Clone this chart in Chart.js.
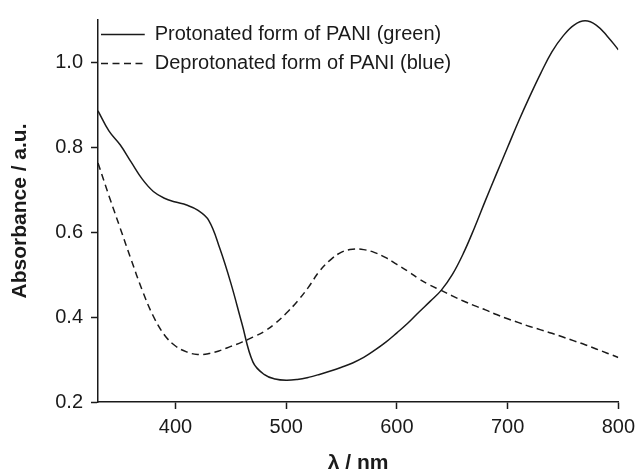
<!DOCTYPE html>
<html>
<head>
<meta charset="utf-8">
<script src="https://cdn.jsdelivr.net/npm/chart.js@4.4.1/dist/chart.umd.min.js"></script>
<style>
  body { margin: 0; background: #fff; }
  canvas { display: block; }
</style>
</head>
<body>
<canvas id="spectrum" width="641" height="473"></canvas>
<script>
// wavelength grid (nm), every 10 nm
const wavelengths = [330, 340, 350, 360, 370, 380, 390, 400, 410, 420, 430, 440, 450, 460, 470, 480,
  490, 500, 510, 520, 530, 540, 550, 560, 570, 580, 590, 600, 610, 620, 630, 640, 650, 660, 670, 680,
  690, 700, 710, 720, 730, 740, 750, 760, 770, 780, 790, 800];

// protonated PANI (solid)
const protonated = [0.886, 0.838, 0.806, 0.765, 0.725, 0.696, 0.680, 0.671, 0.664, 0.652, 0.628, 0.562,
  0.480, 0.385, 0.294, 0.265, 0.254, 0.251, 0.253, 0.258, 0.265, 0.273, 0.282, 0.292, 0.305, 0.322,
  0.341, 0.363, 0.386, 0.412, 0.437, 0.463, 0.500, 0.550, 0.610, 0.675, 0.738, 0.800, 0.862, 0.920,
  0.975, 1.025, 1.062, 1.088, 1.098, 1.088, 1.062, 1.030];

// deprotonated PANI (dashed)
const deprotonated = [0.763, 0.685, 0.610, 0.535, 0.463, 0.402, 0.358, 0.332, 0.318, 0.312, 0.314, 0.321,
  0.331, 0.341, 0.353, 0.366, 0.385, 0.409, 0.437, 0.470, 0.508, 0.535, 0.553, 0.560, 0.559, 0.552,
  0.540, 0.524, 0.508, 0.490, 0.475, 0.463, 0.450, 0.438, 0.427, 0.417, 0.406, 0.396, 0.387, 0.378,
  0.370, 0.362, 0.353, 0.344, 0.335, 0.325, 0.315, 0.305];

const seriesNames = ["Protonated form of PANI (green)", "Deprotonated form of PANI (blue)"];
const xTicks = [400, 500, 600, 700, 800];
const yTicks = [0.2, 0.4, 0.6, 0.8, 1.0];

const ink = "#1a1a1a";
const fontFamily = "'Liberation Sans', Arial, Helvetica, sans-serif";
const dash = [7, 4.5];

const toPoints = (ys) => wavelengths.map((x, i) => ({ x: x, y: ys[i] }));

// put the in-plot legend where the original sits (top-left of the plot)
const legendShift = {
  id: "legendShift",
  afterLayout(chart) {
    if (chart.legend) {
      chart.legend.top = chart.chartArea.top - 4.5;
      chart.legend.left = chart.chartArea.left - 6;
    }
  },
};

new Chart(document.getElementById("spectrum"), {
  type: "line",
  data: {
    datasets: [
      {
        label: seriesNames[0],
        data: toPoints(protonated),
        borderColor: ink,
        borderWidth: 1.5,
        pointRadius: 0,
        tension: 0.4,
      },
      {
        label: seriesNames[1],
        data: toPoints(deprotonated),
        borderColor: ink,
        borderWidth: 1.5,
        borderDash: dash,
        pointRadius: 0,
        tension: 0.4,
      },
    ],
  },
  options: {
    responsive: false,
    animation: false,
    layout: { padding: { top: 14, right: 17, left: 0, bottom: 0 } },
    plugins: {
      legend: {
        position: "chartArea",
        align: "start",
        labels: {
          // zero-height box = a plain line sample; width chosen so the dashes line up both ways
          boxWidth: 43.75,
          boxHeight: 0,
          padding: 9,
          color: ink,
          font: { family: fontFamily, size: 20 },
        },
      },
      tooltip: { enabled: false },
    },
    scales: {
      x: {
        type: "linear",
        min: 330,
        max: 800,
        afterBuildTicks: (scale) => { scale.ticks = xTicks.map((v) => ({ value: v })); },
        afterFit: (scale) => { scale.height = 71; },
        ticks: {
          color: ink,
          padding: 6,
          maxRotation: 0,
          font: { family: fontFamily, size: 20 },
          callback: (v) => String(v),
        },
        grid: { drawOnChartArea: false, tickLength: 7, tickColor: ink, tickWidth: 1.5 },
        border: { color: ink, width: 1.5 },
        title: {
          display: true,
          text: "λ / nm",
          color: ink,
          padding: { top: 0, bottom: -1 },
          font: { family: fontFamily, size: 21, weight: "bold", lineHeight: 1 },
        },
      },
      y: {
        type: "linear",
        min: 0.2,
        max: 1.1,
        afterBuildTicks: (scale) => { scale.ticks = yTicks.map((v) => ({ value: v })); },
        afterFit: (scale) => { scale.width = 98; },
        ticks: {
          color: ink,
          padding: 8,
          font: { family: fontFamily, size: 20 },
          callback: (v) => Number(v).toFixed(1),
        },
        grid: { drawOnChartArea: false, tickLength: 7, tickColor: ink, tickWidth: 1.5 },
        border: { color: ink, width: 1.5 },
        title: {
          display: true,
          text: "Absorbance / a.u.",
          color: ink,
          padding: { top: 8, bottom: 0 },
          font: { family: fontFamily, size: 21, weight: "bold" },
        },
      },
    },
  },
  plugins: [legendShift],
});
</script>
</body>
</html>
